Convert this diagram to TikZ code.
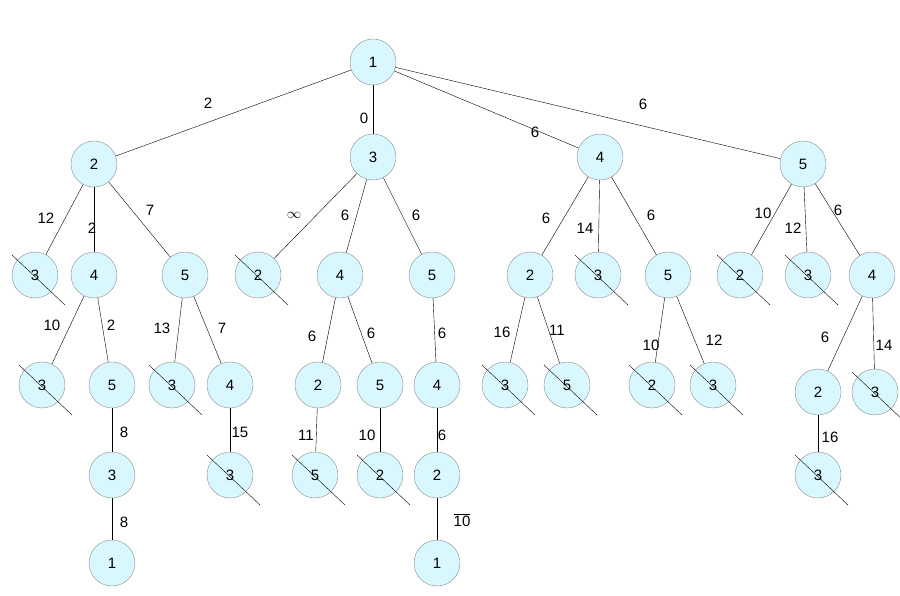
\documentclass[tikz,border=0pt]{standalone}
\usepackage{fontspec}
\setmainfont{Liberation Sans}
\usetikzlibrary{positioning}
\begin{document}
\begin{tikzpicture}[x=1pt,y=-1pt,
	every node/.style={font=\fontsize{15}{17}\selectfont},
	vert/.style={circle, draw=black!45, fill=blue!20!cyan!15, minimum size=46pt, inner sep=0pt},
	lbl/.style={inner sep=1pt},
	tedge/.style={draw, black}
]
\useasboundingbox (0,0) rectangle (900,596);
% vertices
\foreach \nm/\x/\y/\t in {r/373/62/1,
	a/94/164/2, b/373/157/3, c/600/157/4, d/803/164/5,
	aa/35/275/3, ab/94/275/4, ac/185/275/5,
	ba/258/275/2, bb/340/275/4, bc/432/275/5,
	ca/530/275/2, cb/598/275/3, cc/668/275/5,
	da/740/275/2, db/808/275/3, dc/872/275/4,
	aba/42/385/3, abb/112/385/5, aca/172/385/3, acb/230/385/4,
	bba/318/385/2, bbb/380/385/5, bca/437/385/4,
	caa/505/385/3, cab/567/385/5, cca/652/385/2, ccb/713/385/3,
	dca/818/392/2, dcb/875/392/3,
	abba/112/475/3, acba/230/475/3, bbaa/315/475/5, bbba/380/475/2, bcaa/437/475/2, dcaa/818/475/3,
	abbaa/112/563/1, bcaaa/437/563/1}
	\node[vert] (\nm) at (\x,\y) {\t};
% edges
\foreach \p/\q in {r/a, r/b, r/c, r/d, a/aa, a/ab, a/ac, b/ba, b/bb, b/bc,
	c/ca, c/cb, c/cc, d/da, d/db, d/dc, ab/aba, ab/abb, ac/aca, ac/acb,
	bb/bba, bb/bbb, bc/bca, ca/caa, ca/cab, cc/cca, cc/ccb, dc/dca, dc/dcb,
	abb/abba, acb/acba, bba/bbaa, bbb/bbba, bca/bcaa, dca/dcaa,
	abba/abbaa, bcaa/bcaaa}
	\draw[tedge] (\p) -- (\q);
% pruned vertices
\foreach \nm in {aa, ba, cb, da, db, aba, aca, caa, cab, cca, ccb, dcb, acba, bbaa, bbba, dcaa}
	\draw ([shift={(-23,-20)}]\nm.center) -- ([shift={(30,30)}]\nm.center);
% edge weights
\foreach \nm/\x/\y/\t in {l1/208/103/2, l2/364/118/0, l3/535/132/6, l4/643/104/6,
	l5/46/218/12, l6/92/228/2, l7/150/210/7,
	l8/294/215/$\infty$, l9/345/215/6, l10/416/215/6,
	l11/546/218/6, l12/585/228/14, l13/651/215/6,
	l14/763/213/10, l15/793/228/12, l16/838/210/6,
	l17/52/325/10, l18/111/325/2, l19/162/328/13, l20/222/328/7,
	l21/312/336/6, l22/371/333/6, l23/442/333/6,
	l24/502/332/16, l25/557/330/11, l26/651/345/10, l27/714/340/12,
	l28/825/337/6, l29/884/345/14,
	l30/124/432/8, l31/240/432/15, l32/306/435/11, l33/367/435/10, l34/442/435/6, l35/830/437/16,
	l36/124/522/8, l37/462/520/$\overline{\mbox{10}}$}
	\node[lbl] (\nm) at (\x,\y) {\t};
\end{tikzpicture}
\end{document}
